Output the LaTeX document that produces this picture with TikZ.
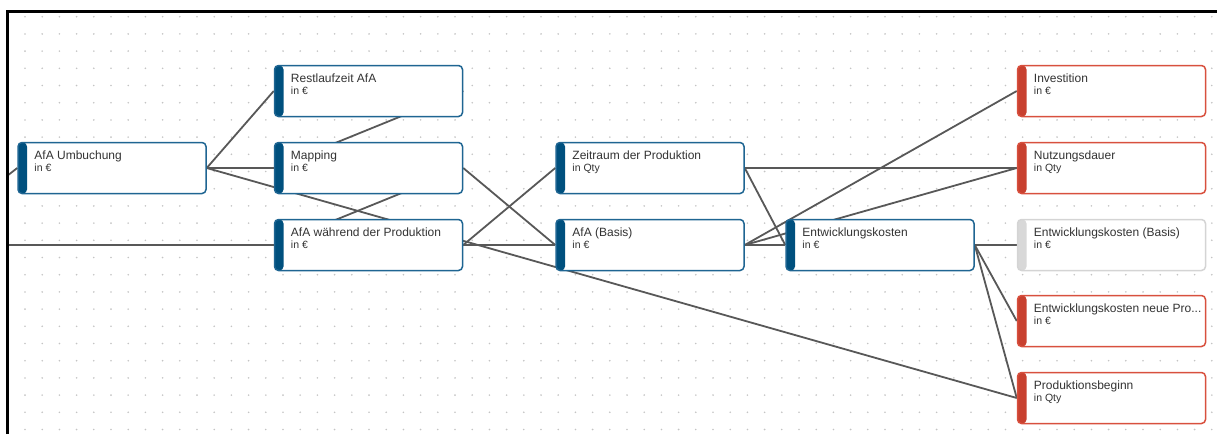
\documentclass[tikz,border=0pt]{standalone}
\usepackage{fontspec}
\setmainfont{Liberation Sans}
\usetikzlibrary{backgrounds}
\definecolor{blueline}{HTML}{1F6592}
\definecolor{bluebar}{HTML}{00507E}
\definecolor{redline}{HTML}{D8503E}
\definecolor{redbar}{HTML}{C8402F}
\definecolor{greyline}{HTML}{D4D4D4}
\definecolor{greybar}{HTML}{D8D8D8}
\definecolor{linkc}{HTML}{585858}
\definecolor{dotc}{HTML}{C4C4C4}
\definecolor{txtc}{HTML}{333333}
\newcommand\unitline[1]{{\fontsize{10.5}{12.5}\selectfont #1}}
\begin{document}
\begin{tikzpicture}[x=1pt,y=-1pt,
  box/.style 2 args={draw=#1, fill=white, line width=1.5, rounded corners=4,
    minimum width=188, minimum height=51, inner sep=0,
    path picture={\fill[#2] (path picture bounding box.north west)
      rectangle ([xshift=9]path picture bounding box.south west);}},
  bluebox/.style={box={blueline}{bluebar}},
  redbox/.style={box={redline}{redbar}},
  greybox/.style={box={greyline}{greybar}},
  txt/.style={anchor=north west, xshift=17, yshift=-8.5, inner sep=0,
    align=left, text=txtc, font=\fontsize{12}{12.5}\selectfont},
  link/.style={draw=linkc, line width=1.8}]
  \useasboundingbox (0,0) rectangle (1217,434);
  \node[bluebox, label={[txt]north west:{AfA Umbuchung\\\unitline{in €}}}] (umb) at (112,168) {};
  \node[bluebox, label={[txt]north west:{Restlaufzeit AfA\\\unitline{in €}}}] (rest) at (368.5,91) {};
  \node[bluebox, label={[txt]north west:{Mapping\\\unitline{in €}}}] (map) at (368.5,168) {};
  \node[bluebox, label={[txt]north west:{AfA während der Produktion\\\unitline{in €}}}] (waeh) at (368.5,245) {};
  \node[bluebox, label={[txt]north west:{Zeitraum der Produktion\\\unitline{in Qty}}}] (zeit) at (650,168) {};
  \node[bluebox, label={[txt]north west:{AfA (Basis)\\\unitline{in €}}}] (basis) at (650,245) {};
  \node[bluebox, label={[txt]north west:{Entwicklungskosten\\\unitline{in €}}}] (ek) at (880,245) {};
  \node[redbox, label={[txt]north west:{Investition\\\unitline{in €}}}] (inv) at (1111.5,91) {};
  \node[redbox, label={[txt]north west:{Nutzungsdauer\\\unitline{in Qty}}}] (nutz) at (1111.5,168) {};
  \node[greybox, label={[txt]north west:{Entwicklungskosten (Basis)\\\unitline{in €}}}] (ekb) at (1111.5,245) {};
  \node[redbox, label={[txt]north west:{Entwicklungskosten neue Pro...\\\unitline{in €}}}] (ekneu) at (1111.5,321) {};
  \node[redbox, label={[txt]north west:{Produktionsbeginn\\\unitline{in Qty}}}] (prod) at (1111.5,398) {};
  \coordinate (off1) at (7,176);
  \coordinate (off2) at (7,245);
  \begin{scope}[on background layer]
    \foreach \i in {0,...,69}
      \foreach \j in {0,...,24}
        \fill[dotc] ({25+17.2*\i},{16.7+17.2*\j}) circle (0.9);
    \draw[link] (off1) -- (umb.west);
    \draw[link] (off2) -- (waeh.west);
    \draw[link] (umb.east) -- (rest.west);
    \draw[link] (umb.east) -- (map.west);
    \draw[link] (umb.east) -- (prod.west);
    \draw[link] (rest.east) -- (map.west);
    \draw[link] (map.east) -- (waeh.west);
    \draw[link] (map.east) -- (basis.west);
    \draw[link] (waeh.east) -- (zeit.west);
    \draw[link] (waeh.east) -- (basis.west);
    \draw[link] (zeit.east) -- (nutz.west);
    \draw[link] (zeit.east) -- (ek.west);
    \draw[link] (basis.east) -- (ek.west);
    \draw[link] (basis.east) -- (inv.west);
    \draw[link] (basis.east) -- (nutz.west);
    \draw[link] (ek.east) -- (ekb.west);
    \draw[link] (ek.east) -- (ekneu.west);
    \draw[link] (ek.east) -- (prod.west);
  \end{scope}
  \draw[line width=3] (7,434) -- (7,11) -- (1217,11);
\end{tikzpicture}
\end{document}
